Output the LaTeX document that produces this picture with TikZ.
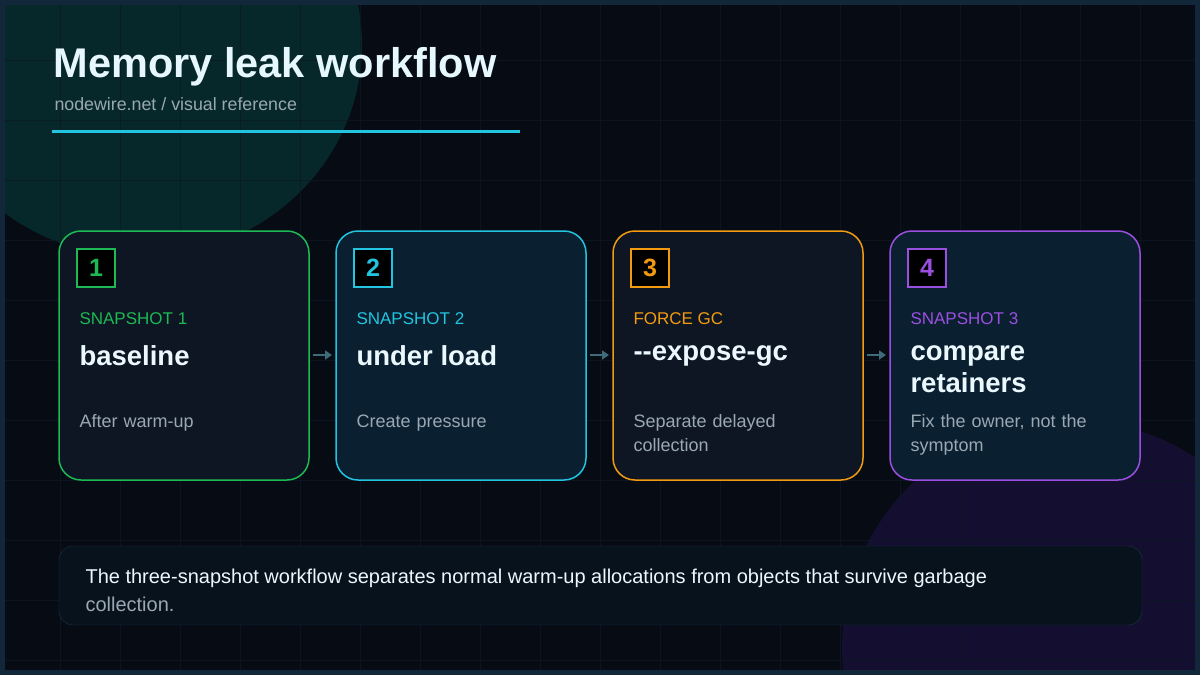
\documentclass[tikz,border=0pt]{standalone}
\usepackage{fontspec}
\setmainfont{Liberation Sans}
\usetikzlibrary{arrows.meta}
\definecolor{bg}{HTML}{060B14}
\definecolor{cg}{HTML}{1DB954}
\definecolor{cc}{HTML}{22C4E0}
\definecolor{co}{HTML}{F29B11}
\definecolor{cp}{HTML}{9B4FE0}
\definecolor{frame}{HTML}{12283A}
\definecolor{nb}{HTML}{1E3446}
\definecolor{nf}{HTML}{08121C}
\definecolor{fa}{HTML}{0D1622}
\definecolor{fb}{HTML}{0A2030}
\definecolor{blobg}{HTML}{06282A}
\definecolor{blobp}{HTML}{140F30}
\definecolor{grid}{HTML}{0E1824}
\definecolor{arrc}{HTML}{3F6A7A}
\definecolor{desc}{HTML}{9AA8B4}
\begin{document}
\begin{tikzpicture}[x=1pt,y=-1pt,
  card/.style={draw=#1,line width=1.5pt,rounded corners=22pt},
  num/.style={draw=#1,line width=1.5pt,fill=black,text=#1,minimum size=38pt,inner sep=0pt,font=\fontsize{25}{25}\bfseries\selectfont},
  lab/.style={anchor=west,text=#1,font=\fontsize{17}{17}\selectfont},
  ttl/.style={anchor=north west,text=white!92!cyan,font=\fontsize{27.5}{32}\bfseries\selectfont,align=left},
  dsc/.style={anchor=north west,text=desc,font=\fontsize{18}{24}\selectfont,align=left,text width=215pt},
  arr/.style={-{Triangle[length=7pt,width=9pt]},draw=arrc,line width=2.5pt}]
\useasboundingbox (0,0) rectangle (1200,675);
\fill[bg] (0,0) rectangle (1200,675);
\begin{scope}
\clip (0,0) rectangle (1200,675);
\fill[blobg] (140,45) ellipse (222 and 212);
\fill[blobp] (1070,648) circle (228);
\foreach \x in {60,120,...,1140} \draw[grid,opacity=0.7] (\x,0) -- (\x,675);
\foreach \y in {60,120,...,660} \draw[grid,opacity=0.7] (0,\y) -- (1200,\y);
\end{scope}
\draw[line width=5pt,frame] (2.5,2.5) rectangle (1197.5,672.5);
\node[anchor=west,text=white!90!cyan,font=\fontsize{41.5}{42}\bfseries\selectfont] (title) at (50,67) {Memory leak workflow};
\node[anchor=west,text=desc,font=\fontsize{17.8}{18}\selectfont] (sub) at (51,104) {nodewire.net / visual reference};
\draw[cc,line width=3pt] (52,131) -- (520,131);
\foreach \i/\x/\c/\f/\l/\t/\d in {1/59/cg/fa/SNAPSHOT 1/baseline/After warm-up,
  2/336/cc/fb/SNAPSHOT 2/under load/Create pressure,
  3/613/co/fa/FORCE GC/{-}{-}expose-gc/Separate delayed\\collection,
  4/890/cp/fb/SNAPSHOT 3/compare\\retainers/{Fix the owner, not the\\symptom}} {
  \draw[card=\c,fill=\f] (\x,231) rectangle ++(250,249);
  \coordinate (c\i w) at (\x,355);
  \coordinate (c\i e) at (\x+250,355);
  \node[num=\c] (n\i) at (\x+37,268) {\i};
  \node[lab=\c] (l\i) at (\x+17,319) {\l};
  \node[ttl] (t\i) at (\x+17,342) {\t};
  \node[dsc] (d\i) at (\x+17,411) {\d};
}
\draw[arr] ([xshift=4pt]c1e) -- ([xshift=-4pt]c2w);
\draw[arr] ([xshift=4pt]c2e) -- ([xshift=-4pt]c3w);
\draw[arr] ([xshift=4pt]c3e) -- ([xshift=-4pt]c4w);
\draw[nb,fill=nf,rounded corners=14pt] (59,546) rectangle (1142,625);
\node[anchor=north west,align=left,font=\fontsize{20}{28}\selectfont] (note) at (82,565)
 {\textcolor{white!92!cyan}{The three-snapshot workflow separates normal warm-up allocations from objects that survive garbage}\\\textcolor{desc}{collection.}};
\end{tikzpicture}
\end{document}
